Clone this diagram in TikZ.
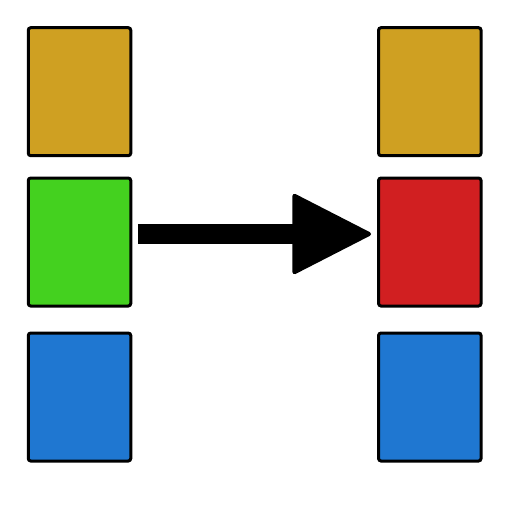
\documentclass[tikz,border=0pt]{standalone}
\usetikzlibrary{arrows.meta}

\definecolor{cardgold}{RGB}{207,160,34}
\definecolor{cardgreen}{RGB}{68,209,31}
\definecolor{cardred}{RGB}{209,31,33}
\definecolor{cardblue}{RGB}{31,119,209}

\tikzset{
  card/.style={draw=black,line width=3pt,rounded corners=2.5pt,
    minimum width=102.5pt,minimum height=128pt,inner sep=0pt},
  swap/.style={line width=20pt,
    -{Triangle[length=81pt,width=82pt,line width=4pt,round]},
    shorten <=5.5pt,shorten >=6pt}
}

\begin{document}
\begin{tikzpicture}[x=1pt,y=-1pt]
  \useasboundingbox (0,0) rectangle (512,512);

  % before
  \node[card,fill=cardgold] (goldA) at (79.5,91.7) {};
  \node[card,fill=cardgreen] (green) at (79.5,242) {};
  \node[card,fill=cardblue] (blueA) at (79.5,397) {};

  % after
  \node[card,fill=cardgold] (goldB) at (429.8,91.7) {};
  \node[card,fill=cardred] (red) at (429.8,242) {};
  \node[card,fill=cardblue] (blueB) at (429.8,397) {};

  \draw[swap] ([yshift=8pt]green.east) -- ([yshift=8pt]red.west);
\end{tikzpicture}
\end{document}
